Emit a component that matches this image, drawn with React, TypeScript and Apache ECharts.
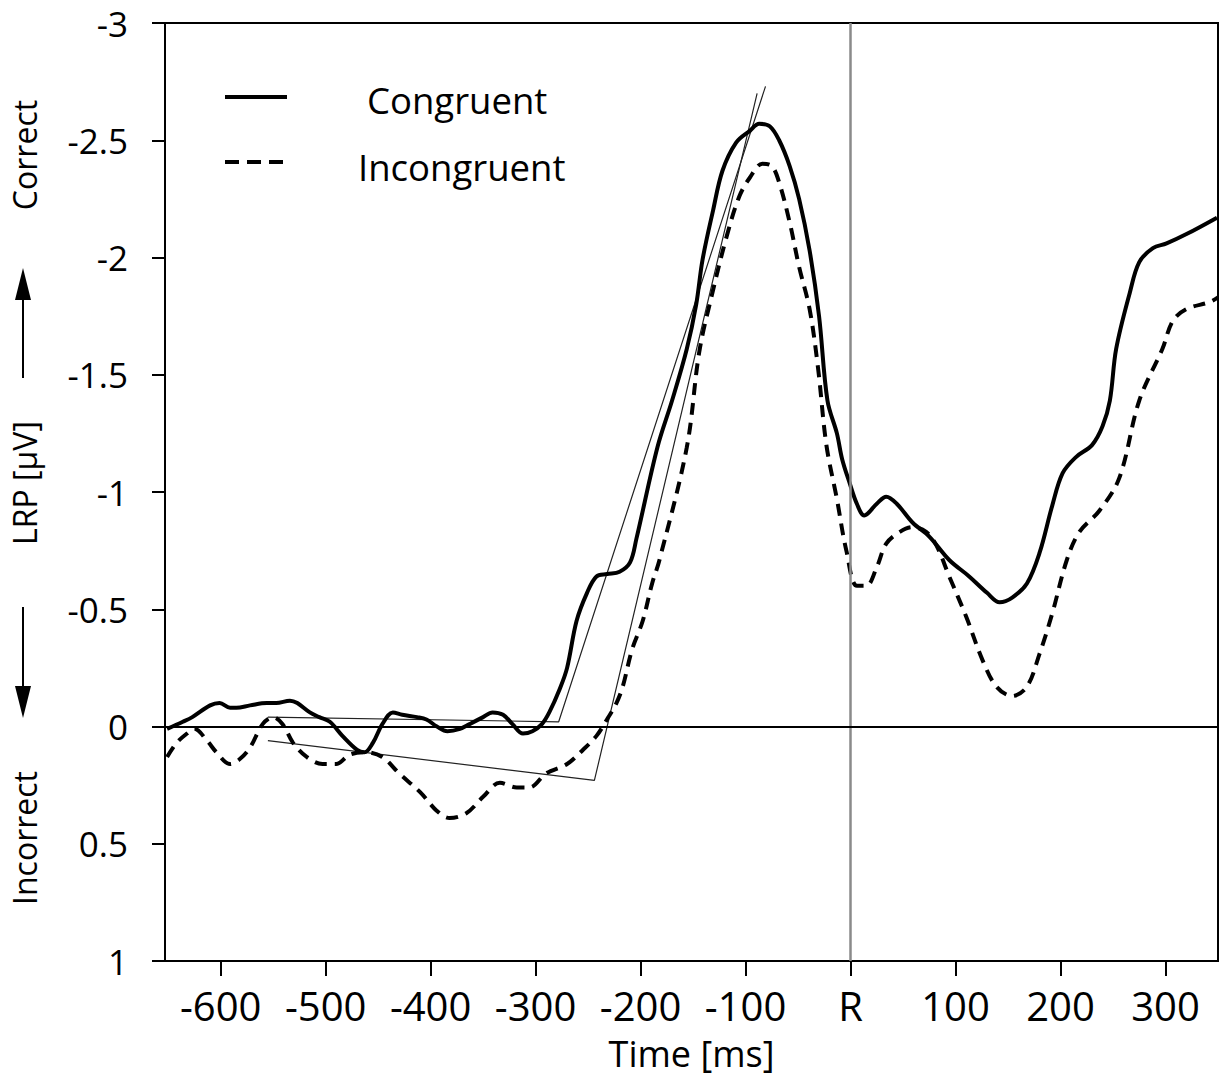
import React, { useEffect, useRef } from "react";
import * as echarts from "echarts";

const congruentTime = [-651, -636, -627, -610, -601, -591, -585, -572, -556, -547, -534, -527, -515, -506, -496, -484, -470, -463, -455, -446, -436, -427, -413, -404, -394, -384, -372, -363, -350, -341, -331, -322, -312, -303, -294, -287, -277, -270, -261, -251, -242, -232, -220, -210, -204, -184, -170, -156, -147, -141, -131, -122, -109, -96, -87, -77, -68, -58, -49, -39, -30, -22, -13, -8, -1, 6, 13, 25, 34, 44, 59, 75, 94, 113, 130, 142, 154, 168, 180, 192, 202, 215, 230, 240, 247, 253, 266, 275, 288, 301, 320, 349];
const congruentLRP = [0.01, -0.02, -0.04, -0.09, -0.1, -0.08, -0.08, -0.09, -0.1, -0.1, -0.11, -0.1, -0.06, -0.04, -0.02, 0.04, 0.1, 0.11, 0.07, -0.01, -0.06, -0.05, -0.04, -0.03, 0.0, 0.02, 0.01, -0.01, -0.04, -0.06, -0.05, -0.01, 0.03, 0.02, -0.01, -0.06, -0.16, -0.25, -0.45, -0.57, -0.64, -0.65, -0.66, -0.7, -0.8, -1.19, -1.39, -1.61, -1.8, -1.99, -2.2, -2.37, -2.49, -2.54, -2.57, -2.56, -2.5, -2.39, -2.25, -2.03, -1.75, -1.39, -1.25, -1.14, -1.04, -0.95, -0.9, -0.95, -0.98, -0.95, -0.87, -0.81, -0.71, -0.64, -0.57, -0.53, -0.55, -0.61, -0.74, -0.94, -1.08, -1.15, -1.2, -1.28, -1.39, -1.61, -1.85, -1.98, -2.04, -2.06, -2.1, -2.17];

const incongruentTime = [-651, -642, -632, -625, -613, -604, -591, -582, -572, -560, -550, -541, -531, -518, -503, -490, -477, -461, -446, -430, -410, -394, -382, -366, -350, -334, -318, -306, -290, -270, -255, -242, -232, -223, -217, -208, -198, -189, -182, -156, -144, -131, -118, -106, -96, -84, -75, -68, -58, -49, -39, -31, -23, -13, -4, 6, 15, 25, 34, 47, 59, 72, 82, 94, 110, 126, 139, 154, 168, 180, 192, 206, 218, 237, 256, 275, 297, 307, 320, 342, 350];
const incongruentLRP = [0.13, 0.07, 0.03, 0.01, 0.06, 0.11, 0.16, 0.14, 0.09, -0.01, -0.04, -0.01, 0.07, 0.13, 0.16, 0.16, 0.12, 0.11, 0.13, 0.2, 0.28, 0.36, 0.39, 0.37, 0.3, 0.24, 0.26, 0.26, 0.2, 0.16, 0.1, 0.04, -0.03, -0.1, -0.17, -0.33, -0.45, -0.61, -0.71, -1.19, -1.6, -1.86, -2.09, -2.26, -2.34, -2.4, -2.39, -2.32, -2.15, -1.96, -1.78, -1.53, -1.2, -0.97, -0.75, -0.6, -0.6, -0.68, -0.78, -0.83, -0.85, -0.83, -0.77, -0.64, -0.47, -0.28, -0.17, -0.13, -0.17, -0.31, -0.48, -0.71, -0.83, -0.92, -1.06, -1.39, -1.61, -1.73, -1.78, -1.81, -1.83];

// broken-stick onset fits
const fitCongruentTime = [-555, -278, -81];
const fitCongruentLRP = [-0.04, -0.02, -2.73];
const fitIncongruentTime = [-555, -244, -89];
const fitIncongruentLRP = [0.06, 0.23, -2.7];

const xTicks = [-600, -500, -400, -300, -200, -100, 0, 100, 200, 300];
const legendNames = ["Congruent", "Incongruent"];

const FONT = "'Open Sans', sans-serif";

function zip(xs: number[], ys: number[]) {
  return xs.map((x, i) => [x, ys[i]]);
}

export default function App() {
  const ref = useRef<HTMLDivElement>(null);
  useEffect(() => {
    document.body.style.margin = "0";
    const chart = echarts.init(ref.current!, null, { renderer: "svg" });
    chart.setOption({
      animation: false,
      backgroundColor: "#fff",
      grid: {
        left: 165,
        right: 7,
        top: 23,
        bottom: 121,
        show: true,
        borderColor: "#000",
        borderWidth: 2,
      },
      xAxis: {
        type: "value",
        min: -653,
        max: 350,
        name: "Time [ms]",
        nameLocation: "middle",
        nameGap: 74,
        nameTextStyle: { fontFamily: FONT, fontSize: 36, color: "#000" },
        axisLine: { show: true, onZero: false, lineStyle: { color: "#000", width: 2 } },
        axisTick: {
          show: true,
          inside: false,
          length: 15,
          customValues: xTicks,
          lineStyle: { color: "#000", width: 2 },
        },
        axisLabel: {
          customValues: xTicks,
          formatter: (v: number) => (v === 0 ? "R" : String(v)),
          fontFamily: FONT,
          fontSize: 40,
          color: "#000",
          margin: 24,
        },
        splitLine: { show: false },
      },
      yAxis: {
        type: "value",
        inverse: true,
        min: -3,
        max: 1,
        interval: 0.5,
        axisLine: { show: true, onZero: false, lineStyle: { color: "#000", width: 2 } },
        axisTick: { show: true, inside: false, length: 13, lineStyle: { color: "#000", width: 2 } },
        axisLabel: { fontFamily: FONT, fontSize: 35, color: "#000", margin: 37 },
        splitLine: { show: false },
      },
      series: [
        {
          type: "line",
          name: "refs",
          data: [],
          silent: true,
          markLine: {
            silent: true,
            symbol: "none",
            label: { show: false },
            animation: false,
            data: [
              { xAxis: 0, lineStyle: { color: "#8a8a8a", width: 2.5, type: "solid" } },
              { yAxis: 0, lineStyle: { color: "#000", width: 2, type: "solid" } },
            ],
          },
        },
        {
          type: "line",
          name: "fitC",
          data: zip(fitCongruentTime, fitCongruentLRP),
          showSymbol: false,
          silent: true,
          lineStyle: { color: "#222", width: 1.2 },
          z: 3,
        },
        {
          type: "line",
          name: "fitI",
          data: zip(fitIncongruentTime, fitIncongruentLRP),
          showSymbol: false,
          silent: true,
          lineStyle: { color: "#222", width: 1.2 },
          z: 3,
        },
        {
          type: "line",
          name: legendNames[0],
          data: zip(congruentTime, congruentLRP),
          showSymbol: false,
          smooth: 0.35,
          lineStyle: { color: "#000", width: 4 },
          z: 4,
        },
        {
          type: "line",
          name: legendNames[1],
          data: zip(incongruentTime, incongruentLRP),
          showSymbol: false,
          smooth: 0.35,
          lineStyle: { color: "#000", width: 4, type: [12, 8] },
          z: 4,
        },
      ],
      graphic: [
        { type: "line", shape: { x1: 225, y1: 97, x2: 287, y2: 97 }, style: { stroke: "#000", lineWidth: 4 } },
        {
          type: "line",
          shape: { x1: 225, y1: 162, x2: 283, y2: 162 },
          style: { stroke: "#000", lineWidth: 4, lineDash: [14, 8] },
        },
        {
          type: "text",
          x: 367,
          y: 100,
          style: { text: legendNames[0], font: `36.5px ${FONT}`, fill: "#000", verticalAlign: "middle", align: "left" },
        },
        {
          type: "text",
          x: 358,
          y: 167,
          style: { text: legendNames[1], font: `36.5px ${FONT}`, fill: "#000", verticalAlign: "middle", align: "left" },
        },
        {
          type: "text",
          x: 24,
          y: 155,
          rotation: Math.PI / 2,
          style: { text: "Correct", font: `32px ${FONT}`, fill: "#000", align: "center", verticalAlign: "middle" },
        },
        {
          type: "text",
          x: 24,
          y: 483,
          rotation: Math.PI / 2,
          style: { text: "LRP [μV]", font: `32px ${FONT}`, fill: "#000", align: "center", verticalAlign: "middle" },
        },
        {
          type: "text",
          x: 24,
          y: 838,
          rotation: Math.PI / 2,
          style: { text: "Incorrect", font: `32px ${FONT}`, fill: "#000", align: "center", verticalAlign: "middle" },
        },
        { type: "line", shape: { x1: 23, y1: 378, x2: 23, y2: 295 }, style: { stroke: "#000", lineWidth: 2 } },
        {
          type: "polygon",
          shape: { points: [[23, 268], [15, 300], [31, 300]] },
          style: { fill: "#000" },
        },
        { type: "line", shape: { x1: 23, y1: 607, x2: 23, y2: 690 }, style: { stroke: "#000", lineWidth: 2 } },
        {
          type: "polygon",
          shape: { points: [[23, 718], [15, 686], [31, 686]] },
          style: { fill: "#000" },
        },
      ],
    });
    return () => chart.dispose();
  }, []);
  return <div ref={ref} style={{ position: "fixed", left: 0, top: 0, width: 1225, height: 1082 }} />;
}
